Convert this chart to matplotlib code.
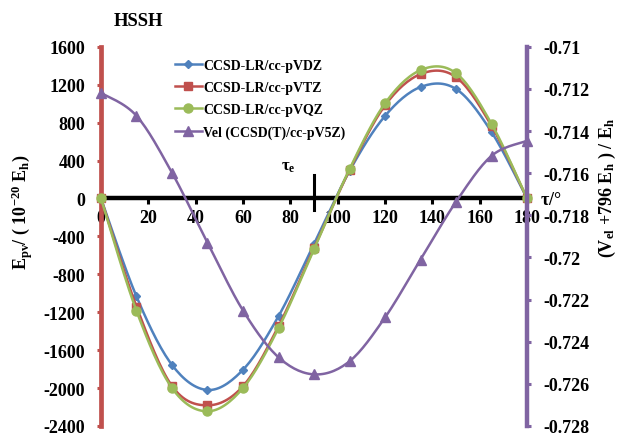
"""
Parity-violating energy and electronic potential of HSSH versus dihedral angle.
"""

# Imports #
import numpy as np
import matplotlib
matplotlib.use("Agg")
from matplotlib import pyplot as plt
from matplotlib.ticker import FixedLocator, FuncFormatter

# Data #
tau = [0, 15, 30, 45, 60, 75, 90, 105, 120, 135, 150, 165, 180]

epv_vdz = [0, -1034, -1756, -2020, -1807, -1242, -480, 290, 870, 1175, 1154, 701, 0]
epv_vtz = [0, -1140, -1978, -2182, -1980, -1348, -525, 298, 981, 1311, 1279, 766, 0]
epv_vqz = [0, -1186, -1999, -2245, -2000, -1369, -535, 309, 1003, 1353, 1321, 787, 0]

vel = [-0.71219, -0.71328, -0.71598, -0.71930, -0.72252, -0.72474, -0.72555,
       -0.72493, -0.72285, -0.72010, -0.71736, -0.71518, -0.71447]

series_labels = ["CCSD-LR/cc-pVDZ", "CCSD-LR/cc-pVTZ", "CCSD-LR/cc-pVQZ",
                 "Vel (CCSD(T)/cc-pV5Z)"]

left_ticks = [-2400, -2000, -1600, -1200, -800, -400, 0, 400, 800, 1200, 1600]
right_ticks = [-0.728, -0.726, -0.724, -0.722, -0.72, -0.718, -0.716,
               -0.714, -0.712, -0.71]
x_ticks = [0, 20, 40, 60, 80, 100, 120, 140, 160, 180]

BLUE = "#4F81BD"
RED = "#C0504D"
GREEN = "#9BBB59"
PURPLE = "#8064A2"

plt.rcParams['font.family'] = ['Liberation Serif', 'DejaVu Serif']
plt.rcParams['font.weight'] = 'bold'
plt.rcParams['axes.labelweight'] = 'bold'
plt.rcParams['axes.unicode_minus'] = False
plt.rcParams['mathtext.fontset'] = 'custom'
plt.rcParams['mathtext.rm'] = 'Liberation Serif:bold'
plt.rcParams['mathtext.it'] = 'Liberation Serif:bold'
plt.rcParams['mathtext.bf'] = 'Liberation Serif:bold'
plt.rcParams['mathtext.default'] = 'rm'

N_SUB = 16


def smooth(x, y, n=N_SUB):
    """Catmull-Rom curve through the points, like a spreadsheet smoothed line."""
    x = np.asarray(x, float)
    y = np.asarray(y, float)
    px = np.concatenate([[x[0]], x, [x[-1]]])
    py = np.concatenate([[y[0]], y, [y[-1]]])
    xs, ys = [], []
    t = np.linspace(0, 1, n, endpoint=False)
    for i in range(1, len(x)):
        p0, p1, p2, p3 = px[i - 1], px[i], px[i + 1], px[i + 2]
        q0, q1, q2, q3 = py[i - 1], py[i], py[i + 1], py[i + 2]
        h1 = 2 * t**3 - 3 * t**2 + 1
        h2 = -2 * t**3 + 3 * t**2
        h3 = t**3 - 2 * t**2 + t
        h4 = t**3 - t**2
        xs.append(h1 * p1 + h2 * p2 + h3 * (p2 - p0) / 2 + h4 * (p3 - p1) / 2)
        ys.append(h1 * q1 + h2 * q2 + h3 * (q2 - q0) / 2 + h4 * (q3 - q1) / 2)
    xs.append([x[-1]])
    ys.append([y[-1]])
    return np.concatenate(xs), np.concatenate(ys)


def draw(axis, x, y, color, marker, ms, label):
    sx, sy = smooth(x, y)
    marks = list(range(0, len(sx), N_SUB))
    line, = axis.plot(sx, sy, color=color, lw=1.8, marker=marker, ms=ms,
                      markevery=marks, label=label, zorder=4, clip_on=False)
    return line


fig = plt.figure(figsize=(6.18, 4.35), dpi=100)
ax = fig.add_axes([0.1634, 0.0184, 0.6894, 0.8719])
ax2 = ax.twinx()

h1 = draw(ax, tau, epv_vdz, BLUE, 'D', 4.5, series_labels[0])
h2 = draw(ax, tau, epv_vtz, RED, 's', 5.5, series_labels[1])
h3 = draw(ax, tau, epv_vqz, GREEN, 'o', 6.5, series_labels[2])
h4 = draw(ax2, tau, vel, PURPLE, '^', 6.5, series_labels[3])

# Primary axis #
ax.set_xlim(0, 180)
ax.set_ylim(-2400, 1600)
ax.spines['top'].set_visible(False)
ax.spines['right'].set_visible(False)
ax.spines['bottom'].set_position(('data', 0))
ax.spines['bottom'].set_linewidth(3.2)
ax.spines['bottom'].set_color('black')
ax.spines['left'].set_linewidth(3.4)
ax.spines['left'].set_color(RED)
ax.xaxis.set_major_locator(FixedLocator(x_ticks))
ax.yaxis.set_major_locator(FixedLocator(left_ticks))
ax.tick_params(axis='x', direction='out', length=4, width=2.2, color='black',
               labelsize=13, pad=3.5)
ax.tick_params(axis='y', direction='out', length=3, width=2.2, color=RED,
               labelsize=13, pad=8.5)
ax.set_ylabel(r"E$_{pv}$/ ( 10$^{-20}$ E$_{h}$)", fontsize=13)
ax.yaxis.set_label_coords(-0.155, 0.567)

# Secondary axis #
ax2.set_ylim(-0.728, -0.71)
for side in ('left', 'top', 'bottom'):
    ax2.spines[side].set_visible(False)
ax2.spines['right'].set_linewidth(3.2)
ax2.spines['right'].set_color(PURPLE)
ax2.yaxis.set_major_locator(FixedLocator(right_ticks))
ax2.yaxis.set_major_formatter(FuncFormatter(lambda v, p: f"{v:g}"))
ax2.tick_params(axis='y', direction='out', length=3, width=2.2, color=PURPLE,
                labelsize=13, pad=9)
ax2.set_ylabel(r"(V$_{el}$ +796 E$_{h}$ ) / E$_{h}$", fontsize=13)
ax2.yaxis.set_label_coords(1.165, 0.63)

# Annotations #
ax.plot([90, 90], [-120, 250], color='black', lw=2.2, zorder=3, clip_on=False)
ax.text(79, 340, r"$\tau_e$", fontsize=12, ha='center', va='center')
ax.text(1.03, 0.598, r"$\tau$/°", transform=ax.transAxes, fontsize=13,
        ha='left', va='center')
fig.text(138 / 618, 1 - 22 / 435, "HSSH", fontsize=13.5, ha='center',
         va='center', fontweight='bold')

ax.legend(handles=[h1, h2, h3, h4], loc='upper left',
          bbox_to_anchor=(0.145, 1.0), frameon=False,
          numpoints=1, handlelength=1.9, handletextpad=0.1, labelspacing=0.65,
          prop={'family': 'Liberation Serif', 'weight': 'bold', 'size': 10})

fig.savefig("out.png", dpi=100)
